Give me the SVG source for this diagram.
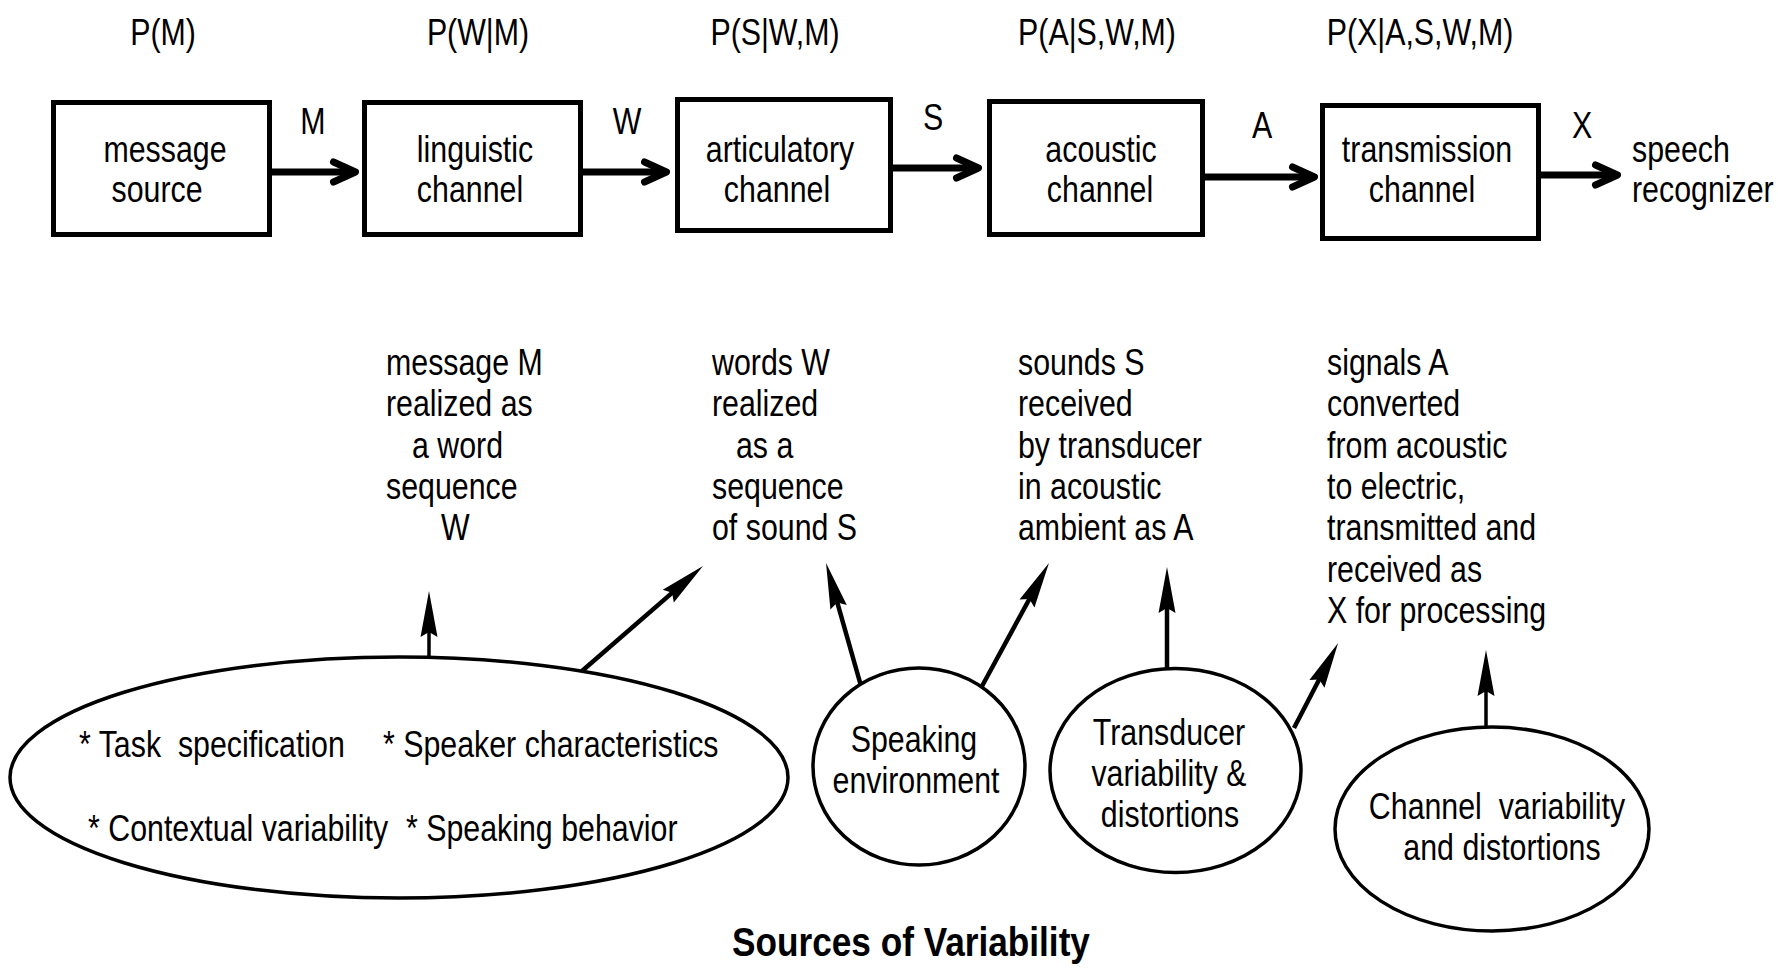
<svg xmlns="http://www.w3.org/2000/svg" width="1778" height="970" viewBox="0 0 1778 970">
<style>
text { font-family: "Liberation Sans", Arial, sans-serif; font-size: 37px; fill: #000; }
.m { text-anchor: middle; }
.pre { white-space: pre; }
.box { fill: #fff; stroke: #000; stroke-width: 5; }
.ell { fill: #fff; stroke: #000; stroke-width: 3.5; }
.flow { stroke: #000; stroke-width: 7; fill: none; marker-end: url(#chev); }
.src { stroke: #000; stroke-width: 4.5; fill: none; marker-end: url(#head); }
.thin { stroke-width: 3.5; }
.title { font-weight: bold; font-size: 40px; }
</style>
<defs>
<marker id="chev" markerUnits="userSpaceOnUse" viewBox="0 0 34 28" refX="20" refY="14" markerWidth="34" markerHeight="28" orient="auto" overflow="visible">
<path d="M6,4 L28,14 L6,24" fill="none" stroke="#000" stroke-width="7" stroke-linecap="round" stroke-linejoin="round"/>
</marker>
<marker id="head" markerUnits="userSpaceOnUse" viewBox="0 0 46 18" refX="26" refY="9" markerWidth="46" markerHeight="18" orient="auto" overflow="visible">
<path d="M0,0.5 L46,9 L0,17.5 L5,9 Z" fill="#000"/>
</marker>
</defs>
<rect width="1778" height="970" fill="#fff"/>

<g id="probabilities">
<text class="m" transform="translate(163 45) scale(.82 1)">P(M)</text>
<text class="m" transform="translate(478 45) scale(.82 1)">P(W|M)</text>
<text class="m" transform="translate(775 45) scale(.82 1)">P(S|W,M)</text>
<text class="m" transform="translate(1097 45) scale(.82 1)">P(A|S,W,M)</text>
<text class="m" transform="translate(1420 45) scale(.82 1)">P(X|A,S,W,M)</text>
</g>

<g id="connectors">
<line class="flow" x1="272" y1="172" x2="347.5" y2="172"/>
<line class="flow" x1="583" y1="172" x2="658.5" y2="172"/>
<line class="flow" x1="893" y1="168" x2="970.5" y2="168"/>
<line class="flow" x1="1205" y1="177" x2="1306.5" y2="177"/>
<line class="flow" x1="1541" y1="175" x2="1609.5" y2="175"/>
<line class="src thin" x1="429" y1="666" x2="429" y2="611"/>
<line class="src" x1="582" y1="671" x2="687.9" y2="579.1"/>
<line class="src" x1="861" y1="686" x2="831.5" y2="582.2"/>
<line class="src" x1="981" y1="688" x2="1039.4" y2="580.6"/>
<line class="src" x1="1167" y1="668" x2="1167" y2="587"/>
<line class="src" x1="1294" y1="728" x2="1328.9" y2="660.8"/>
<line class="src thin" x1="1486" y1="729" x2="1486" y2="670"/>
</g>

<g id="flow-labels">
<text class="m" transform="translate(313 134) scale(.82 1)">M</text>
<text class="m" transform="translate(627 134) scale(.82 1)">W</text>
<text class="m" transform="translate(933 130) scale(.82 1)">S</text>
<text class="m" transform="translate(1262 138) scale(.82 1)">A</text>
<text class="m" transform="translate(1582 138) scale(.82 1)">X</text>
</g>

<g id="message-source">
<rect class="box" x="53.5" y="102.5" width="216" height="132"/>
<text class="m" transform="translate(165 162) scale(.82 1)">message</text>
<text class="m" transform="translate(157 202) scale(.82 1)">source</text>
</g>
<g id="linguistic-channel">
<rect class="box" x="364.5" y="102.5" width="216" height="132"/>
<text class="m" transform="translate(475 162) scale(.82 1)">linguistic</text>
<text class="m" transform="translate(470 202) scale(.82 1)">channel</text>
</g>
<g id="articulatory-channel">
<rect class="box" x="677.5" y="99.5" width="213" height="131"/>
<text class="m" transform="translate(780 162) scale(.82 1)">articulatory</text>
<text class="m" transform="translate(777 202) scale(.82 1)">channel</text>
</g>
<g id="acoustic-channel">
<rect class="box" x="989.5" y="101.5" width="213" height="133"/>
<text class="m" transform="translate(1101 162) scale(.82 1)">acoustic</text>
<text class="m" transform="translate(1100 202) scale(.82 1)">channel</text>
</g>
<g id="transmission-channel">
<rect class="box" x="1322.5" y="105.5" width="216" height="133"/>
<text class="m" transform="translate(1427 162) scale(.82 1)">transmission</text>
<text class="m" transform="translate(1422 202) scale(.82 1)">channel</text>
</g>
<g id="speech-recognizer">
<text transform="translate(1632 162) scale(.82 1)">speech</text>
<text transform="translate(1632 202) scale(.82 1)">recognizer</text>
</g>

<g id="descriptions">
<text transform="translate(386 375) scale(.82 1)">message M</text>
<text transform="translate(386 416) scale(.82 1)">realized as</text>
<text transform="translate(412 458) scale(.82 1)">a word</text>
<text transform="translate(386 499) scale(.82 1)">sequence</text>
<text transform="translate(441 540) scale(.82 1)">W</text>

<text transform="translate(712 375) scale(.82 1)">words W</text>
<text transform="translate(712 416) scale(.82 1)">realized</text>
<text transform="translate(736 458) scale(.82 1)">as a</text>
<text transform="translate(712 499) scale(.82 1)">sequence</text>
<text transform="translate(712 540) scale(.82 1)">of sound S</text>

<text transform="translate(1018 375) scale(.82 1)">sounds S</text>
<text transform="translate(1018 416) scale(.82 1)">received</text>
<text transform="translate(1018 458) scale(.82 1)">by transducer</text>
<text transform="translate(1018 499) scale(.82 1)">in acoustic</text>
<text transform="translate(1018 540) scale(.82 1)">ambient as A</text>

<text transform="translate(1327 375) scale(.82 1)">signals A</text>
<text transform="translate(1327 416) scale(.82 1)">converted</text>
<text transform="translate(1327 458) scale(.82 1)">from acoustic</text>
<text transform="translate(1327 499) scale(.82 1)">to electric,</text>
<text transform="translate(1327 540) scale(.82 1)">transmitted and</text>
<text transform="translate(1327 582) scale(.82 1)">received as</text>
<text transform="translate(1327 623) scale(.82 1)">X for processing</text>
</g>

<g id="speaker-factors">
<ellipse class="ell" cx="399" cy="777.5" rx="389" ry="120.5"/>
<text class="pre" transform="translate(79 757) scale(.82 1)">* Task  specification</text>
<text class="pre" transform="translate(383 757) scale(.82 1)">* Speaker characteristics</text>
<text class="pre" transform="translate(88 841) scale(.82 1)">* Contextual variability</text>
<text class="pre" transform="translate(406 841) scale(.82 1)">* Speaking behavior</text>
</g>
<g id="speaking-environment">
<ellipse class="ell" cx="919" cy="766.5" rx="106" ry="98.5"/>
<text class="m" transform="translate(914 752) scale(.82 1)">Speaking</text>
<text class="m" transform="translate(916 793) scale(.82 1)">environment</text>
</g>
<g id="transducer">
<ellipse class="ell" cx="1175.5" cy="770.5" rx="125.5" ry="102"/>
<text class="m" transform="translate(1169 745) scale(.82 1)">Transducer</text>
<text class="m" transform="translate(1169 786) scale(.82 1)">variability &amp;</text>
<text class="m" transform="translate(1170 827) scale(.82 1)">distortions</text>
</g>
<g id="channel-variability">
<ellipse class="ell" cx="1492" cy="829" rx="157" ry="102"/>
<text class="m pre" transform="translate(1497 819) scale(.82 1)">Channel  variability</text>
<text class="m" transform="translate(1502 860) scale(.82 1)">and distortions</text>
</g>

<g id="caption">
<text class="m title" transform="translate(911 956) scale(.88 1)">Sources of Variability</text>
</g>
</svg>
